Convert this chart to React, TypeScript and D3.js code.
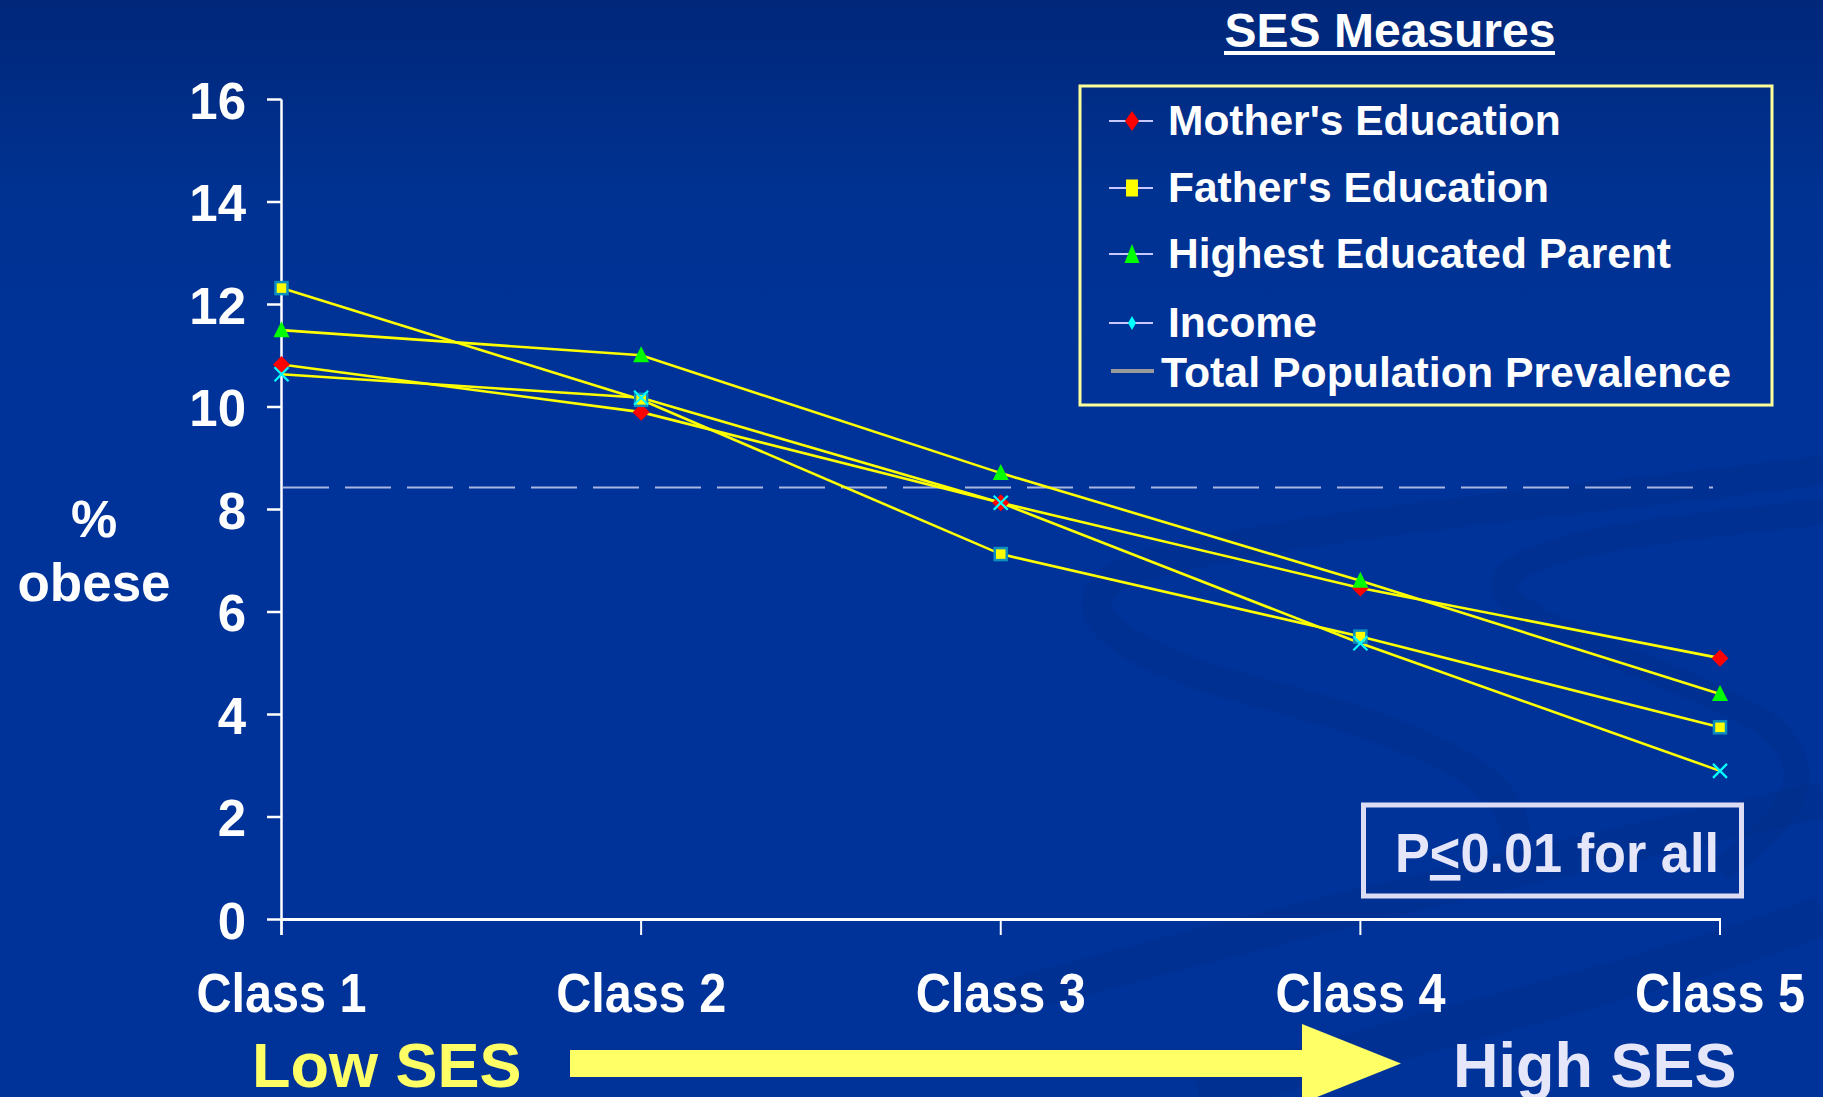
import React from "react";
import * as d3 from "d3";

const W = 1823;
const H = 1097;

const classes = ["Class 1", "Class 2", "Class 3", "Class 4", "Class 5"];
const yTicks = [0, 2, 4, 6, 8, 10, 12, 14, 16];

const mothersEducation = [10.83, 9.9, 8.13, 6.47, 5.1];
const fathersEducation = [12.32, 10.14, 7.13, 5.52, 3.75];
const highestEducated = [11.5, 11.01, 8.71, 6.61, 4.4];
const income = [10.64, 10.18, 8.13, 5.39, 2.9];
const totalPrevalence = 8.43;

const legendLabels = [
  "Mother's Education",
  "Father's Education",
  "Highest Educated Parent",
  "Income",
];

const font = "'Liberation Sans', Arial, sans-serif";

const x = d3.scalePoint<string>().domain(classes).range([281.5, 1720]);
const y = d3.scaleLinear().domain([0, 16]).range([919.5, 99.5]);

// marker shapes, drawn round 0,0
const diamond = "M0,-8.5L8.5,0L0,8.5L-8.5,0Z";
const triangle = "M0,-9L8,7L-8,7Z";
const cross = "M-7,-7L7,7M7,-7L-7,7";

const series = [
  { name: legendLabels[0], values: mothersEducation, kind: "diamond" },
  { name: legendLabels[1], values: fathersEducation, kind: "square" },
  { name: legendLabels[2], values: highestEducated, kind: "triangle" },
  { name: legendLabels[3], values: income, kind: "cross" },
];

function Marker({ kind, cx, cy }: { kind: string; cx: number; cy: number }) {
  const t = `translate(${cx},${cy})`;
  if (kind === "diamond") return <path d={diamond} transform={t} fill="#ff0000" />;
  if (kind === "triangle") return <path d={triangle} transform={t} fill="#00ff00" />;
  if (kind === "square")
    return (
      <rect x={cx - 6} y={cy - 6} width={12} height={12} fill="#ffff00" stroke="#0b8fc0" strokeWidth={2.5} />
    );
  return <path d={cross} transform={t} stroke="#00ffff" strokeWidth={2.2} fill="none" />;
}

// little legend keys, a bit taller than wide like the slide
const legendKeys: Record<string, React.ReactNode> = {
  diamond: <path d="M0,-10L7,0L0,10L-7,0Z" fill="#ff0000" />,
  square: <rect x={-6} y={-8.5} width={12} height={17} fill="#ffff00" />,
  triangle: <path d="M0,-10L7.5,9L-7.5,9Z" fill="#00ff00" />,
  cross: <path d="M0,-7L4,0L0,7L-4,0Z" fill="#00ffff" />,
};

export default function App() {
  const line = d3
    .line<number>()
    .x((_, i) => x(classes[i]) as number)
    .y((d) => y(d));

  const legendRows = [135, 202, 268, 337];

  const arrow = d3.path();
  arrow.moveTo(570, 1050);
  arrow.lineTo(1302, 1050);
  arrow.lineTo(1302, 1024);
  arrow.lineTo(1401, 1063.5);
  arrow.lineTo(1302, 1103);
  arrow.lineTo(1302, 1077);
  arrow.lineTo(570, 1077);
  arrow.closePath();

  return (
    <svg
      width={W}
      height={H}
      style={{ position: "absolute", left: 0, top: 0, display: "block" }}
      fontFamily={font}
      fontWeight="bold"
    >
      <defs>
        <linearGradient id="bg" x1="0" y1="0" x2="0" y2="1">
          <stop offset="0" stopColor="#00277a" />
          <stop offset="0.18" stopColor="#003292" />
          <stop offset="0.35" stopColor="#003399" />
          <stop offset="1" stopColor="#003399" />
        </linearGradient>
      </defs>
      <rect width={W} height={H} fill="url(#bg)" />

      {/* faint swooshes in the slide background */}
      <g fill="none" stroke="#002e8c" strokeOpacity={0.6}>
        <path
          d="M1823,470 C1600,500 1300,520 1130,570 C1060,600 1100,650 1250,690 C1400,730 1520,770 1515,840"
          strokeWidth={30}
        />
        <path
          d="M1823,512 C1700,525 1530,540 1505,580 C1490,620 1650,660 1760,720 C1830,770 1790,820 1720,870"
          strokeWidth={26}
        />
        <path d="M1000,1000 C1250,930 1550,860 1823,800" strokeWidth={36} />
        <path d="M1200,1097 C1420,1030 1650,980 1823,915" strokeWidth={40} />
      </g>

      {/* axes */}
      <line x1={281.5} x2={281.5} y1={y(16)} y2={935} stroke="#fff" strokeWidth={2.5} />
      {yTicks.map((t) => (
        <g key={t}>
          <line x1={267} x2={281.5} y1={y(t)} y2={y(t)} stroke="#fff" strokeWidth={2.5} />
          <text x={246} y={y(t) + 19} textAnchor="end" fontSize={51} fill="#fff">
            {t}
          </text>
        </g>
      ))}
      <line x1={281.5} x2={1721} y1={y(0)} y2={y(0)} stroke="#fff" strokeWidth={3} />
      {classes.map((c) => (
        <g key={c}>
          <line x1={x(c)} x2={x(c)} y1={y(0)} y2={935} stroke="#fff" strokeWidth={2} />
          <text
            x={x(c)}
            y={1012}
            textAnchor="middle"
            fontSize={55}
            fill="#fff"
            textLength={170}
            lengthAdjust="spacingAndGlyphs"
          >
            {c}
          </text>
        </g>
      ))}

      <text x={94} y={537} textAnchor="middle" fontSize={52} fill="#fff">
        %
      </text>
      <text x={94} y={601} textAnchor="middle" fontSize={53} fill="#fff">
        obese
      </text>

      {/* total population prevalence */}
      <line
        x1={283}
        x2={1713}
        y1={y(totalPrevalence)}
        y2={y(totalPrevalence)}
        stroke="#a9b6e0"
        strokeWidth={2}
        strokeDasharray="46 16"
      />

      {series.map((s) => (
        <path key={s.name} d={line(s.values) as string} fill="none" stroke="#ffff00" strokeWidth={2.6} />
      ))}
      {series.map((s) =>
        s.values.map((v, i) => (
          <Marker key={s.name + i} kind={s.kind} cx={x(classes[i]) as number} cy={y(v)} />
        ))
      )}

      {/* legend */}
      <text x={1390} y={47} textAnchor="middle" fontSize={48} fill="#fff">
        SES Measures
      </text>
      <rect x={1224} y={51} width={331} height={4} fill="#fff" />
      <rect x={1080} y={86} width={692} height={319} fill="none" stroke="#ffff99" strokeWidth={3} />
      {series.map((s, i) => (
        <g key={s.name}>
          <line x1={1109} x2={1153} y1={legendRows[i] - 14} y2={legendRows[i] - 14} stroke="#c8c8ff" strokeWidth={2} />
          <g transform={`translate(1132,${legendRows[i] - 14})`}>{legendKeys[s.kind]}</g>
          <text x={1168} y={legendRows[i]} fontSize={42.5} fill="#fff">
            {s.name}
          </text>
        </g>
      ))}
      <line x1={1111} x2={1154} y1={371} y2={371} stroke="#999" strokeWidth={4} />
      <text x={1161} y={387} fontSize={42.8} fill="#fff">
        Total Population Prevalence
      </text>

      {/* p value box */}
      <rect x={1363.5} y={805} width={378} height={91} fill="none" stroke="#dcdcf5" strokeWidth={5} />
      <text x={1395} y={872} fontSize={56} fill="#e6e6fa" textLength={324} lengthAdjust="spacingAndGlyphs">
        P<tspan textDecoration="underline">{"<"}</tspan>0.01 for all
      </text>

      {/* low -> high SES arrow */}
      <text x={252} y={1087} fontSize={63} fill="#ffff66">
        Low SES
      </text>
      <path d={arrow.toString()} fill="#ffff66" />
      <text x={1453} y={1087} fontSize={63} fill="#e6e6fa">
        High SES
      </text>
    </svg>
  );
}
